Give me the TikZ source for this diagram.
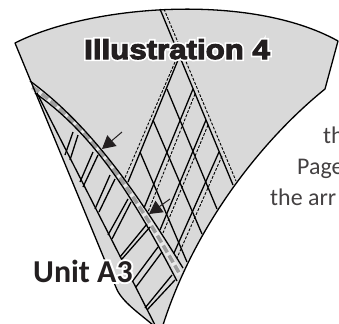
\documentclass[tikz,border=0pt]{standalone}
\usepackage{fontspec}
\usepackage{xcolor}
\setmainfont{Carlito}
\newfontfamily\titlefont[FakeStretch=1.14,FakeBold=4]{Liberation Sans Bold}
\newfontfamily\titlehalo[FakeStretch=1.14,FakeBold=16]{Liberation Sans Bold}
\newfontfamily\unitfont{Carlito Bold}
\newfontfamily\unithalo[FakeBold=12]{Carlito Bold}
\usetikzlibrary{arrows.meta}
\definecolor{patch}{HTML}{D9D9D9}
\definecolor{inktext}{HTML}{231F20}

\begin{document}
\begin{tikzpicture}[
  x=1bp, y=-1bp,
  seam/.style={black, line width=1.3bp},
  stitch/.style={black, line width=0.9bp, dash pattern=on 2.8bp off 1.6bp},
  outline/.style={black, line width=1.3bp, line join=round},
  band/.style={line width=3.6bp, gray!75, dash pattern=on 8bp off 3.5bp},
  pointer/.style={-{Triangle[length=13bp,width=14bp]}, inktext, line width=1bp},
  body/.style={font=\fontsize{24}{24}\selectfont, text=inktext!85, anchor=base west, inner sep=0pt},
]

\useasboundingbox (0,0) rectangle (339,324);
\clip (0,0) rectangle (339,324);

% --- Patch ---
\fill[patch] (15,43) .. controls (90,5) and (250,-8) .. (338,41) -- (325,89)
  .. controls (262,140) and (195,225) .. (163,325) -- (153,325)
  .. controls (135,310) and (120,300) .. (115,285) -- cycle;

% --- Band ---
\draw[line width=6bp, patch!60!white] (32.5,87) .. controls (92.5,130) and (135,195) .. (180,274.5);
\draw[band] (32.5,87) .. controls (92.5,130) and (135,195) .. (180,274.5);
\draw[seam] (30,81) .. controls (90,125) and (135,190) .. (183,268);
\draw[seam] (35,93) .. controls (95,135) and (135,200) .. (177,281);

% --- Seam along the left side ---
\draw[seam] (37,93) -- (155,325);

% --- Rungs below the band ---
\foreach \xa/\ya/\xb/\yb in {73/132/65/155, 78/135/70/160, 93/152/80/182, 98/155/83/187,
  110/175/95/209, 115/179/99/212, 128/199/108/235, 131/202/112/239,
  147/224/120/257, 150/227/122/259, 158/247/132/282, 162/252/136/287,
  172/275/145/308, 175/280/147/310}
  \draw[seam] (\xa,\ya) -- (\xb,\yb);

% --- Lattice ---
\foreach \xa/\ya/\xb/\yb in {160/9/233/185, 167/89/217/209, 153/120/202/234, 140/152/187/262,
  178/60/128/182, 193/89/144/208, 206/120/160/230, 219/152/174/253}
  \draw[seam] (\xa,\ya) -- (\xb,\yb);
\foreach \xa/\ya/\xb/\yb in {164/9/236/181, 175/62/124/180, 195/94/148/212,
  208/125/163/233, 222/156/177/258}
  \draw[stitch] (\xa,\ya) -- (\xb,\yb);

% --- Outline ---
\draw[outline] (163,325) .. controls (195,225) and (262,140) .. (325,89) -- (338,41)
  .. controls (250,-8) and (90,5) .. (15,43) -- (115,285)
  .. controls (120,300) and (135,310) .. (153,325);

% --- Arrows ---
\coordinate (tailA) at (122,132);
\coordinate (tipA) at (102,149);
\coordinate (tailB) at (170,199);
\coordinate (tipB) at (149,214);
\draw[pointer] (tailA) -- (tipA);
\draw[pointer] (tailB) -- (tipB);

% --- Text ---
\node[anchor=base west, inner sep=0pt, font=\fontsize{27.5}{27.5}\titlehalo, text=white] (titlehalo) at (84,59) {Illustration 4};
\node[anchor=base west, inner sep=0pt, font=\fontsize{27.5}{27.5}\titlefont, text=inktext] (title) at (84,59) {Illustration 4};
\node[anchor=base west, inner sep=0pt, font=\fontsize{32}{32}\unithalo, text=white] (unithalo) at (33,282) {Unit A3};
\node[anchor=base west, inner sep=0pt, font=\fontsize{32}{32}\unitfont, text=inktext] (unit) at (33,282) {Unit A3};
\node[body] (noteA) at (323,143) {th};
\node[body] (noteB) at (297,174) {Page};
\node[body] (noteC) at (270,205) {the arr};

\end{tikzpicture}
\end{document}
